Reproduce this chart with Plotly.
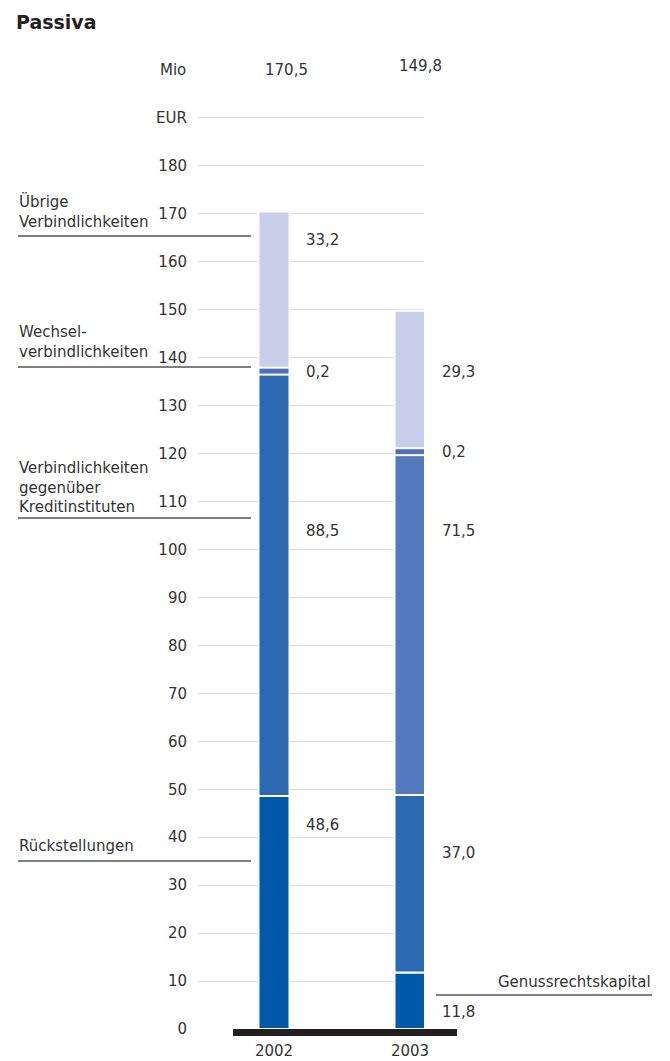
import numpy as np
import plotly.graph_objects as go

# ---------------- data ----------------
years = [2002, 2003]
year_labels = ["2002", "2003"]
genuss = [0.0, 11.8]
rueck = [48.6, 37.0]
kredit = [88.5, 71.5]
wechsel = [0.2, 0.2]
uebrige = [33.2, 29.3]
totals = [170.5, 149.8]
tick_vals = list(range(0, 200, 10))
tick_text = [str(v) for v in range(0, 190, 10)] + ["EUR"]

seg_text_2002 = ["48,6", "88,5", "0,2", "33,2"]
seg_text_2003 = ["11,8", "37,0", "71,5", "0,2", "29,3"]

# ---------------- geometry helpers ----------------
W, H = 670, 1061
L, R_EDGE, T, B = 198, 424, 70, 1029
PX_PER_YEAR = 136.0
X0 = 2002 - (274 - L) / PX_PER_YEAR
X1 = 2003 + (R_EDGE - 274 - PX_PER_YEAR) / PX_PER_YEAR


def px_x(px):
    return (px - L) / (R_EDGE - L)


def px_y(py):
    return (B - py) / (B - T)


def wpx(px):
    return px / PX_PER_YEAR


FONT = "DejaVu Sans"
TXT = "#333333"

# colours per stack position
C_DARK = "#0059a8"
C_MID = "#2d68b2"
C_LIGHT = "#5479bf"
C_WECH = "#4a72bb"
C_TOP = "#c7cfea"

stack_order = [genuss, rueck, kredit, wechsel, uebrige]
vals = np.array(stack_order, dtype=float)
bases = np.vstack([np.zeros(len(years)), np.cumsum(vals, axis=0)[:-1]])

fig = go.Figure()

seg_colors = {
    0: [C_DARK, C_DARK],
    1: [C_DARK, C_MID],
    2: [C_MID, C_LIGHT],
    4: [C_TOP, C_TOP],
}
names = ["Genussrechtskapital", "Rückstellungen", "Verbindlichkeiten gegenüber Kreditinstituten",
         "Wechselverbindlichkeiten", "Übrige Verbindlichkeiten"]

for i in [0, 1, 2, 4]:
    fig.add_trace(go.Bar(
        x=years, y=vals[i], base=bases[i], name=names[i],
        width=wpx(31),
        marker=dict(color=seg_colors[i], line=dict(color="white", width=2)),
        hoverinfo="skip", showlegend=False,
    ))

# Wechsel: white halo then coloured band (thin segment made visible)
fig.add_trace(go.Bar(
    x=years, y=vals[3], base=bases[3], width=wpx(23),
    marker=dict(color="white", line=dict(color="white", width=8)),
    hoverinfo="skip", showlegend=False,
))
fig.add_trace(go.Bar(
    x=years, y=vals[3], base=bases[3], width=wpx(25), name=names[3],
    marker=dict(color=C_WECH, line=dict(color=C_WECH, width=4)),
    hoverinfo="skip", showlegend=False,
))

annotations = []


def ann(text, x, y, xanchor="left", yanchor="middle", size=15, color=TXT, bold=False, align="left"):
    annotations.append(dict(
        text=f"<b>{text}</b>" if bold else text,
        x=x, y=y, xref="paper", yref="paper",
        xanchor=xanchor, yanchor=yanchor, align=align, showarrow=False,
        font=dict(family=FONT, size=size, color=color),
    ))


# title
ann("Passiva", px_x(14), px_y(22), size=19, bold=True, color="#222222")
# unit label
ann("Mio", px_x(188), px_y(70), xanchor="right", size=15)
# totals
ann(f"{totals[0]:.1f}".replace(".", ","), px_x(286), px_y(70), xanchor="center")
ann(f"{totals[1]:.1f}".replace(".", ","), px_x(420), px_y(66), xanchor="center")

# segment value labels
lab_y_2002 = [825, 531, 372, 240]
lab_y_2003 = [1012, 853, 531, 452, 372]
for t, py in zip(seg_text_2002, lab_y_2002):
    ann(t, px_x(304), px_y(py))
for t, py in zip(seg_text_2003, lab_y_2003):
    ann(t, px_x(440), px_y(py))

# category labels on the left
left_labels = [
    ("Übrige<br>Verbindlichkeiten", 211),
    ("Wechsel-<br>verbindlichkeiten", 342),
    ("Verbindlichkeiten<br>gegenüber<br>Kreditinstituten", 487),
    ("Rückstellungen", 846),
]
for t, py in left_labels:
    ann(t, px_x(17), px_y(py))
ann("Genussrechtskapital", px_x(653), px_y(982), xanchor="right")

shapes = []
for py in [236, 367, 518, 861]:
    shapes.append(dict(type="line", xref="paper", yref="paper",
                       x0=px_x(18), x1=px_x(251), y0=px_y(py), y1=px_y(py),
                       line=dict(color="#555555", width=1.5)))
shapes.append(dict(type="line", xref="paper", yref="paper",
                   x0=px_x(436), x1=px_x(652), y0=px_y(995), y1=px_y(995),
                   line=dict(color="#555555", width=1.5)))
# base bar
shapes.append(dict(type="rect", xref="paper", yref="paper",
                   x0=px_x(233), x1=px_x(457), y0=px_y(1036), y1=px_y(1029),
                   fillcolor="#231f20", line=dict(width=0), layer="above"))

fig.update_layout(
    width=W, height=H,
    margin=dict(l=L, r=W - R_EDGE, t=T, b=H - B, autoexpand=False),
    paper_bgcolor="white", plot_bgcolor="white",
    barmode="overlay",
    annotations=annotations, shapes=shapes,
    font=dict(family=FONT, size=15, color=TXT),
    xaxis=dict(range=[X0, X1], tickvals=years, ticktext=year_labels,
               showgrid=False, zeroline=False, showline=False, ticks="",
               ticklabelstandoff=11, tickfont=dict(size=15, color=TXT)),
    yaxis=dict(range=[0, 200], tickvals=tick_vals, ticktext=tick_text,
               showgrid=True, gridcolor="#dcdcdc", gridwidth=1,
               zeroline=False, showline=False, ticks="",
               ticklabelstandoff=10, tickfont=dict(size=15, color=TXT)),
)

fig.write_html("out.html", config={"displayModeBar": False},
               post_script="document.body.style.margin='0';document.body.style.overflow='hidden';")
